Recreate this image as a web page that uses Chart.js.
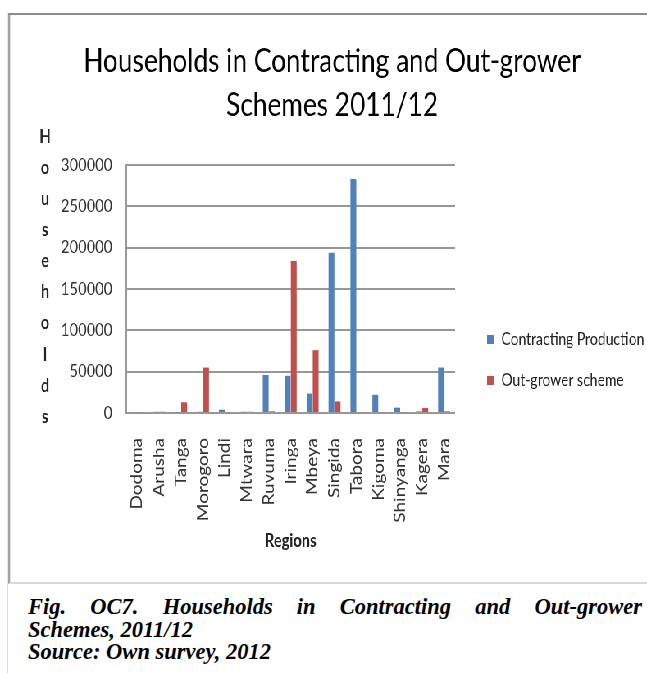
<!DOCTYPE html>
<html>
<head>
<meta charset="utf-8">
<script src="https://cdn.jsdelivr.net/npm/chart.js@4.4.1/dist/chart.umd.min.js"></script>
<style>
html, body { margin: 0; padding: 0; overflow: hidden; background: #fff; width: 647px; height: 673px; }
/* the chart picture is squeezed sideways in the original, so the whole figure is scaled */
#page { position: absolute; left: 0; top: 0; width: 800px; height: 590px; transform: scaleX(0.82); transform-origin: 0 0; }
#frame { position: absolute; left: 10px; top: 13px; width: 800px; height: 567px; border-left: 2px solid #8c8c8c; border-top: 2px solid #8c8c8c; border-bottom: 2px solid #dadada; }
#chart { position: absolute; left: 12px; top: 15px; }
#rule { position: absolute; left: 7px; top: 584px; height: 89px; border-left: 1px solid #dcdcdc; }
#caption { position: absolute; left: 28px; top: 596px; width: 614px; font: italic bold 22.5px "Liberation Serif", "Times New Roman", serif; line-height: 22.5px; color: #000; }
#caption .first { text-align: justify; text-align-last: justify; }
</style>
</head>
<body>
<div id="page">
    <div id="frame"></div>
    <canvas id="chart" width="786" height="567"></canvas>
</div>
<div id="rule"></div>
<div id="caption">
    <div class="first">Fig. OC7. Households in Contracting and Out-grower</div>
    <div>Schemes, 2011/12</div>
    <div>Source: Own survey, 2012</div>
</div>
<script>
const regions = ["Dodoma", "Arusha", "Tanga", "Morogoro", "Lindi", "Mtwara", "Ruvuma", "Iringa",
    "Mbeya", "Singida", "Tabora", "Kigoma", "Shinyanga", "Kagera", "Mara"];
const contracting = [1000, 1500, 500, 1500, 4000, 1500, 46000, 45000, 23500, 194000, 283000, 22000, 6500, 2000, 55000];
const outgrower = [1000, 1500, 13000, 55000, 1000, 1500, 2000, 184000, 76000, 14000, 1000, 1000, 1000, 6000, 2000];
const yTitle = "Households".split("");
const chartTitle = ["Households in Contracting and Out-grower", "Schemes 2011/12"];

// y axis title is written one letter per line down the left side
const stackedTitle = {
    id: "stackedTitle",
    afterDraw(chart) {
        const { ctx, chartArea } = chart;
        const first = chartArea.top - 28;
        const last = chartArea.bottom + 4;
        const step = (last - first) / (yTitle.length - 1);
        ctx.save();
        ctx.font = "bold 18px Lato";
        ctx.fillStyle = "#222";
        ctx.textAlign = "center";
        ctx.textBaseline = "middle";
        yTitle.forEach((ch, i) => ctx.fillText(ch, chartArea.left - 99, first + i * step));
        ctx.restore();
    }
};

// the legend box would be capped to a third of half the width, give it a fixed width instead
const legendWidth = {
    id: "legendWidth",
    beforeLayout(chart) {
        const lg = chart.legend;
        if (lg && !lg._fixedWidth) {
            const fit = lg.fit;
            lg.fit = function () {
                fit.call(this);
                this.width = 228;
            };
            lg._fixedWidth = true;
        }
    }
};

const ctx = document.getElementById("chart").getContext("2d");
new Chart(ctx, {
    type: "bar",
    data: {
        labels: regions,
        datasets: [{
            label: "Contracting Production",
            data: contracting,
            backgroundColor: "#4F81BD",
            categoryPercentage: 0.56,
            barPercentage: 0.95
        }, {
            label: "Out-grower scheme",
            data: outgrower,
            backgroundColor: "#C0504D",
            categoryPercentage: 0.56,
            barPercentage: 0.95
        }]
    },
    options: {
        responsive: false,
        animation: false,
        devicePixelRatio: 1,
        layout: { padding: { left: 0, right: 0, top: 0, bottom: 30 } },
        plugins: {
            title: {
                display: true,
                text: chartTitle,
                color: "#000",
                font: { family: "Lato", size: 32, weight: "normal", lineHeight: 1.375 },
                padding: { top: 25, bottom: 37 }
            },
            legend: {
                position: "right",
                align: "end",
                fullSize: false,
                labels: {
                    boxWidth: 9,
                    boxHeight: 9,
                    padding: 24,
                    color: "#222",
                    font: { family: "Lato", size: 17 }
                }
            },
            tooltip: { enabled: false }
        },
        scales: {
            x: {
                grid: { display: false },
                border: { display: false },
                ticks: {
                    color: "#333",
                    font: { family: "Lato", size: 19 },
                    minRotation: 90,
                    maxRotation: 90,
                    padding: 17,
                    autoSkip: false
                },
                title: {
                    display: true,
                    text: "Regions",
                    color: "#222",
                    font: { family: "Lato", size: 18, weight: "bold" },
                    padding: 0
                },
                afterFit: s => { s.height = 139; }
            },
            y: {
                min: 0,
                max: 300000,
                grid: { color: "#979797", lineWidth: 2, drawTicks: false },
                border: { display: true, color: "#9a9a9a", width: 2 },
                ticks: {
                    stepSize: 50000,
                    color: "#333",
                    font: { family: "Lato", size: 18 },
                    padding: 17,
                    callback: v => String(v)
                },
                afterFit: s => { s.width = 142; }
            },
            y2: {
                position: "right",
                display: true,
                grid: { display: false },
                border: { display: false },
                ticks: { display: false },
                afterFit: s => { s.width = 15; }
            }
        }
    },
    plugins: [stackedTitle, legendWidth]
});
</script>
</body>
</html>
